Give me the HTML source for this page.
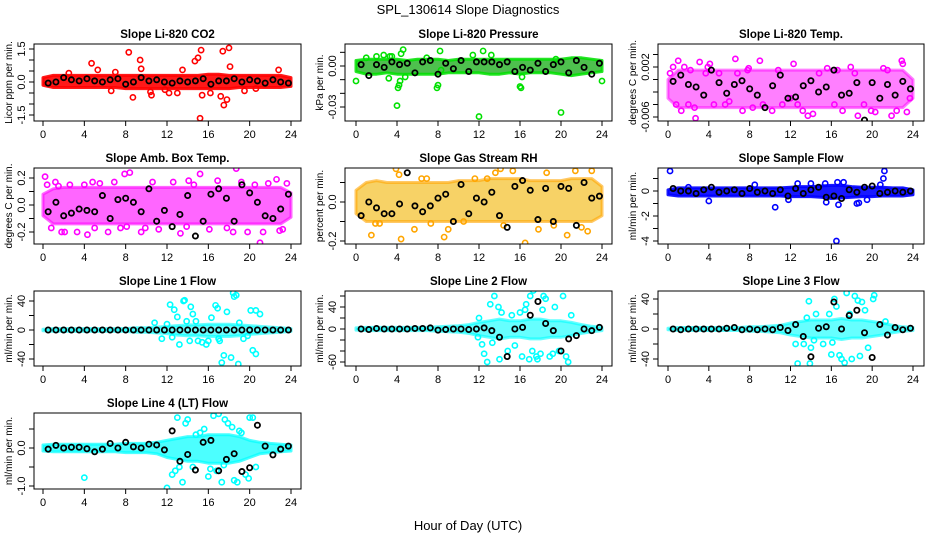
<!DOCTYPE html>
<html><head><meta charset="utf-8">
<style>
html,body{margin:0;padding:0;background:#fff;}
svg{display:block;font-family:"Liberation Sans",Arial,sans-serif;}
</style></head>
<body>
<svg id="chart" width="936" height="540" viewBox="0 0 936 540" xmlns="http://www.w3.org/2000/svg">
<text x="468" y="14" text-anchor="middle" font-size="13">SPL_130614  Slope Diagnostics</text>
<text x="468" y="530" text-anchor="middle" font-size="13">Hour of Day (UTC)</text>
</svg>
<script>
// ---------- shared categories ----------
const bandHours = [0,1,2,3,4,5,6,7,8,9,10,11,12,13,14,15,16,17,18,19,20,21,22,23,24];
const blackHours = [0.5,1.25,2,2.75,3.5,4.25,5,5.75,6.5,7.25,8,8.75,9.5,10.25,11,11.75,12.5,13.25,14,14.75,15.5,16.25,17,17.75,18.5,19.25,20,20.75,21.5,22.25,23,23.75];
const xTicks = [0,4,8,12,16,20,24];

// ---------- P1 CO2 ----------
const p1Hi = [0.2,0.3,0.3,0.3,0.3,0.3,0.3,0.3,0.3,0.3,0.3,0.3,0.3,0.3,0.3,0.3,0.35,0.35,0.3,0.3,0.3,0.3,0.3,0.3,0.2];
const p1Lo = [-0.15,-0.25,-0.25,-0.25,-0.25,-0.25,-0.25,-0.25,-0.3,-0.3,-0.3,-0.3,-0.3,-0.3,-0.3,-0.3,-0.3,-0.3,-0.3,-0.25,-0.25,-0.25,-0.25,-0.25,-0.2];
const p1PtX = [4.7,5.3,8.3,9.4,9.5,7.0,13.5,14.7,15.0,15.3,17.4,18.0,18.1,15.2,8.7,10.5,6.6,15.4,16.2,17.5,17.2,17.8,12.2,13.0,19.5,20.6,22.8,2.5,10.4,11.8];
const p1PtY = [0.85,0.55,1.35,1.0,0.6,0.45,0.55,0.95,1.1,1.45,1.4,1.55,0.7,-1.65,-0.7,-0.6,-0.4,-0.6,-0.5,-1.05,-0.65,-0.8,-0.5,-0.5,-0.4,-0.3,0.55,0.4,-0.45,-0.35];
const p1Black = [-0.05,0.0,0.2,0.1,0.05,0.15,0.05,0.0,0.1,0.15,-0.1,0.0,0.2,0.05,0.1,0.0,-0.05,0.05,0.0,0.05,0.15,-0.1,0.05,0.05,0.15,0.0,0.1,0.05,-0.05,0.1,0.0,-0.05];
const p1Ticks = [-1.5,-1,-0.5,0,0.5,1,1.5];
const p1Labels = ["-1.5","","","0.0","","","1.5"];

// ---------- P2 Pressure ----------
const p2Hi = [0.004,0.005,0.005,0.005,0.005,0.004,0.005,0.005,0.005,0.004,0.005,0.005,0.005,0.005,0.005,0.005,0.005,0.005,0.005,0.005,0.005,0.006,0.006,0.005,0.004];
const p2Lo = [-0.004,-0.006,-0.006,-0.005,-0.006,-0.006,-0.006,-0.006,-0.006,-0.005,-0.005,-0.005,-0.005,-0.006,-0.006,-0.005,-0.006,-0.005,-0.005,-0.005,-0.006,-0.007,-0.006,-0.005,-0.004];
const p2PtX = [0,2,2.7,3.3,3.5,3.2,4.0,4.1,4.2,4.3,4.4,4.6,4.8,7.9,8.0,8.2,8.3,12,12.4,13.2,16,16.1,16.2,19.5,20,24,11.4,1.0,6.9];
const p2PtY = [-0.011,0.007,0.008,0.007,0.007,-0.009,-0.029,-0.016,-0.014,-0.011,0.009,0.012,-0.008,-0.016,-0.014,0.011,-0.003,-0.037,0.011,0.008,-0.015,-0.016,-0.008,0.005,-0.034,-0.011,0.008,0.006,0.006];
const p2Black = [0.001,-0.007,0.001,-0.001,0.003,0.001,0.002,-0.005,0.003,0.004,-0.006,0.002,-0.002,0.004,-0.004,0.003,0.003,0.003,0.001,0.003,-0.004,-0.001,-0.003,0.002,-0.004,0.001,0.003,-0.005,0.004,-0.001,-0.006,0.002];
const p2Ticks = [-0.03,-0.02,-0.01,0,0.01];
const p2Labels = ["-0.03","","","0.00",""];

// ---------- P3 Li-820 Temp ----------
const p3Hi = [0.0,0.0015,0.0015,0.0015,0.0015,0.0015,0.0015,0.0015,0.0015,0.0015,0.0015,0.0015,0.0015,0.0015,0.0015,0.0015,0.0015,0.0015,0.0015,0.0015,0.0015,0.0015,0.0015,0.0015,0.0];
const p3Lo = [-0.003,-0.0045,-0.0045,-0.0045,-0.0045,-0.0045,-0.0045,-0.0045,-0.0045,-0.0045,-0.0045,-0.0045,-0.0045,-0.0045,-0.0045,-0.0045,-0.0045,-0.0045,-0.0045,-0.0045,-0.0045,-0.0045,-0.0045,-0.0045,-0.003];
const p3PtX = [0.2,0.5,0.8,1.0,1.3,1.6,2.0,2.2,2.6,2.7,3.1,3.7,3.9,4.1,4.5,5.0,5.6,6.0,6.6,6.8,7.3,7.8,8.3,9.0,9.3,10.2,10.8,11.2,12.3,12.7,13.2,13.7,14.2,14.8,15.6,16.3,16.6,17.1,17.9,18.3,18.6,19.2,19.9,20.3,21.1,21.5,21.9,22.4,22.9,23.0,23.4,23.7,7.9,12.0];
const p3PtY = [0.001,0.002,-0.004,0.003,-0.005,0.002,-0.004,0.0015,-0.0045,-0.0062,0.0028,0.001,0.002,0.0025,-0.004,0.001,-0.004,-0.0035,0.0033,0.001,-0.005,0.0015,-0.0045,0.0030,-0.004,-0.005,0.0015,-0.004,0.0025,-0.004,-0.005,-0.0058,-0.0055,0.001,0.0018,-0.004,0.0015,-0.005,0.002,0.001,-0.0058,-0.004,-0.005,-0.0052,0.0018,0.0015,-0.0058,-0.005,0.003,0.0025,-0.0052,-0.003,0.0018,-0.003];
const p3Black = [-0.0003,0.0007,-0.0008,-0.0012,-0.0025,0.0015,-0.0005,-0.0022,-0.0008,-0.0002,-0.0015,-0.0025,-0.0045,-0.0010,0.0007,-0.0030,-0.0028,-0.0010,-0.0002,-0.0020,-0.0012,0.0015,-0.0025,-0.0022,-0.0005,-0.0065,-0.0005,-0.0030,-0.0008,-0.0025,-0.0003,-0.0015];
const p3Ticks = [-0.006,-0.004,-0.002,0,0.002,0.004];
const p3Labels = ["-0.006","","","","0.002",""];

// ---------- P4 Amb Box Temp ----------
const p4Hi = [0.08,0.12,0.13,0.13,0.13,0.13,0.13,0.13,0.13,0.13,0.13,0.13,0.13,0.13,0.13,0.13,0.13,0.13,0.13,0.13,0.13,0.13,0.13,0.13,0.09];
const p4Lo = [-0.08,-0.14,-0.14,-0.14,-0.14,-0.14,-0.14,-0.14,-0.14,-0.14,-0.14,-0.14,-0.14,-0.14,-0.14,-0.14,-0.14,-0.14,-0.14,-0.14,-0.14,-0.14,-0.14,-0.14,-0.09];
const p4PtX = [0.2,0.4,0.8,1.2,1.8,2.1,2.6,3.3,4.0,4.3,4.8,5.5,6.3,6.9,7.5,7.9,8.1,8.4,9.5,10.6,11.2,12.6,13.3,13.9,14.1,14.6,15.2,16.1,16.9,17.8,18.4,18.7,19.2,19.8,20.5,21.0,21.3,21.8,22.6,22.9,23.2,23.6,9.9,1.5,5.0];
const p4PtY = [0.21,0.15,-0.17,0.17,-0.2,-0.2,0.15,-0.2,0.15,-0.22,0.17,0.16,-0.2,0.17,-0.17,0.23,-0.16,0.24,-0.2,0.17,-0.18,0.17,-0.21,-0.16,0.18,0.15,0.23,-0.18,0.18,-0.17,-0.2,0.27,0.17,-0.2,0.15,-0.28,-0.2,0.16,0.19,-0.19,-0.18,0.16,-0.17,0.14,-0.17];
const p4Black = [-0.05,0.02,-0.08,-0.06,-0.03,-0.04,-0.05,0.07,-0.1,0.04,0.05,0.02,-0.05,0.12,-0.12,-0.04,-0.16,-0.07,0.07,-0.23,-0.12,0.08,0.12,0.05,-0.12,0.15,0.09,0.02,-0.08,-0.1,-0.03,0.08];
const p4Ticks = [-0.2,-0.1,0,0.1,0.2];
const p4Labels = ["-0.2","","0.0","","0.2"];

// ---------- P5 Gas Stream RH ----------
const p5Hi = [0.06,0.1,0.11,0.1,0.1,0.1,0.1,0.1,0.1,0.1,0.11,0.11,0.11,0.12,0.12,0.12,0.12,0.11,0.11,0.11,0.11,0.12,0.12,0.12,0.08];
const p5Lo = [-0.06,-0.1,-0.1,-0.1,-0.1,-0.1,-0.1,-0.1,-0.1,-0.1,-0.1,-0.1,-0.1,-0.1,-0.1,-0.1,-0.1,-0.1,-0.1,-0.1,-0.1,-0.1,-0.1,-0.1,-0.07];
const p5PtX = [1.5,1.9,4.2,4.4,5.7,6.4,7.3,8.6,9.0,10.5,11.6,12.8,13.6,14.1,15.3,16.5,17.8,18.6,19.3,20.6,21.4,22.0,22.6,23.0,2.3,6.9,14.4,3.9];
const p5PtY = [-0.17,-0.11,0.14,-0.19,-0.14,0.12,-0.11,-0.18,-0.14,-0.1,0.12,0.12,0.15,0.17,0.16,-0.21,-0.14,0.15,-0.12,-0.17,0.16,-0.13,-0.15,0.16,-0.11,0.12,-0.12,0.17];
const p5Black = [-0.07,0.0,-0.03,-0.06,-0.06,-0.01,0.15,-0.02,-0.05,-0.02,0.02,0.04,-0.1,0.09,-0.06,0.02,0.0,0.05,-0.07,-0.13,0.08,0.11,0.06,-0.09,0.07,-0.1,0.08,0.07,-0.12,0.1,0.02,0.03];
const p5Ticks = [-0.2,-0.1,0,0.1];
const p5Labels = ["-0.2","","0.0",""];

// ---------- P6 Sample Flow ----------
const p6Hi = [0.1,0.25,0.25,0.25,0.25,0.25,0.25,0.25,0.25,0.25,0.25,0.25,0.3,0.35,0.35,0.4,0.45,0.45,0.35,0.3,0.3,0.3,0.25,0.25,0.1];
const p6Lo = [-0.3,-0.4,-0.4,-0.4,-0.4,-0.4,-0.4,-0.4,-0.4,-0.4,-0.4,-0.4,-0.45,-0.45,-0.45,-0.5,-0.6,-0.55,-0.5,-0.45,-0.45,-0.4,-0.4,-0.4,-0.3];
const p6PtX = [0.2,21.2,21.1,10.5,16.5,16.7,15.5,18.5,4.0,11.8,19.5,16.6,17.2,12.7,14.0,15.4,8.5,18.7,20.8,2.0];
const p6PtY = [1.6,1.6,1.0,-1.3,-4.0,-1.1,-0.9,-1.0,-0.8,-0.7,-0.7,0.7,0.7,0.6,0.6,0.6,0.5,-0.95,0.5,0.3];
const p6Black = [0.2,0.0,0.0,-0.2,0.1,0.3,-0.1,0.0,0.1,-0.2,0.2,-0.1,0.0,-0.2,0.1,-0.4,0.2,-0.2,0.1,0.3,-0.5,-0.4,-0.6,0.1,-0.1,0.3,0.4,-0.2,-0.1,0.0,-0.1,0.0];
const p6Ticks = [-4,-3,-2,-1,0,1];
const p6Labels = ["-4","","-2","","0",""];

// ---------- P7 Line 1 Flow ----------
const p7Hi = [1,2,2,2,2,2,2,2,2,3,3,4,5,6,7,7,8,8,8,7,6,5,4,3,2];
const p7Lo = [-1,-2,-2,-2,-2,-2,-2,-2,-2,-3,-3,-4,-5,-7,-8,-8,-9,-9,-9,-8,-6,-5,-4,-3,-2];
const p7PtX = [12.3,12.7,13.0,13.2,13.6,13.7,14.3,14.5,14.2,13.9,16.3,16.7,16.9,17.3,17.5,17.8,18.2,18.4,18.5,18.7,18.9,19.0,20.1,20.6,21.0,20.3,20.6,12.5,15.0,15.8,17.1,19.4,10.8,11.5,16.0,15.4,17.0,19.8,14.8,12.0];
const p7PtY = [35,28,18,-20,40,41,32,22,-15,12,17,34,30,-45,-35,25,-38,51,46,48,-47,10,27,27,22,-28,-33,-10,-15,-20,-15,-12,10,-12,-15,-17,-12,-8,12,8];
const p7Black = [0,0,0,0,0,0,0,0,0,0,0,0,0,0,0,0,0,0,0,0,0,0,0,0,0,0,0,0,0,0,0,0];
const p7Ticks = [-40,-20,0,20,40];
const p7Labels = ["-40","","0","","40"];

// ---------- P8 Line 2 Flow ----------
const p8Hi = [2,3,3,3,3,3,3,3,4,5,6,8,12,15,18,15,15,18,18,15,15,12,8,5,3];
const p8Lo = [-2,-3,-3,-3,-3,-3,-3,-3,-4,-5,-6,-8,-12,-15,-18,-15,-15,-18,-18,-15,-15,-12,-8,-5,-3];
const p8PtX = [12.5,12.8,13.5,13.9,14.2,16.2,16.9,17.3,17.7,18.3,18.5,18.9,19.4,20.2,20.5,21.0,12.0,14.8,15.5,16.5,17.0,17.6,18.0,19.8,20.7,13.1,16.0,11.9,13.3,14.0,15.2,17.2,18.2,19.2,12.3,16.6];
const p8PtY = [-45,-60,60,40,30,-50,-55,70,-55,60,55,-50,40,60,-50,25,20,-40,-30,35,60,-50,-45,-40,-60,45,30,-15,-25,-55,25,-40,35,-45,-28,45];
const p8Black = [0,-1,1,0,0,0,0,1,1,2,-2,-1,0,0,-1,0,2,-3,-15,-50,0,3,25,50,10,-3,-40,-18,-12,0,-3,3];
const p8Ticks = [-60,-40,-20,0,20,40,60];
const p8Labels = ["-60","","","0","","40",""];

// ---------- P9 Line 3 Flow ----------
const p9Hi = [1,2,2,2,2,2,2,2,3,3,4,5,8,10,12,12,12,14,12,12,10,8,5,3,2];
const p9Lo = [-1,-2,-2,-2,-2,-2,-2,-2,-3,-3,-4,-5,-8,-10,-12,-12,-12,-14,-12,-12,-10,-8,-5,-3,-2];
const p9PtX = [12.7,13.9,13.8,14.5,16.0,16.3,16.5,17.0,17.3,17.5,18.0,18.3,18.6,19.0,19.3,20.1,20.2,13.3,14.0,15.2,16.8,18.8,21.3,12.5,15.8,14.3,17.8,19.6,16.1,13.6];
const p9PtY = [-46,-46,37,20,-34,40,30,-40,-45,48,-40,44,38,36,25,40,45,-20,-25,-20,-35,-36,10,-20,20,-15,20,-25,-18,15];
const p9Black = [0,-1,0,0,0,0,0,1,2,-1,0,-1,0,-1,2,-2,6,-10,-37,1,3,36,0,18,25,-5,-38,6,-8,2,-1,1];
const p9Ticks = [-40,-20,0,20,40];
const p9Labels = ["-40","","0","","40"];

// ---------- P10 Line 4 (LT) Flow ----------
const p10Hi = [0.08,0.1,0.1,0.1,0.1,0.1,0.1,0.1,0.12,0.12,0.12,0.15,0.2,0.25,0.3,0.3,0.35,0.35,0.35,0.3,0.2,0.15,0.12,0.1,0.08];
const p10Lo = [-0.08,-0.1,-0.1,-0.1,-0.1,-0.1,-0.1,-0.1,-0.12,-0.12,-0.12,-0.15,-0.25,-0.3,-0.35,-0.35,-0.4,-0.4,-0.4,-0.35,-0.25,-0.15,-0.12,-0.1,-0.08];
const p10PtX = [4.0,12.0,12.5,13.0,13.5,13.8,14.0,14.5,15.2,16.0,16.5,17.0,17.3,17.6,17.9,18.5,18.8,19.2,19.6,20.0,20.3,20.6,12.8,16.8,19.9,14.8,13.2,15.6,17.5,18.3,16.2,19.0];
const p10PtY = [-0.78,-1.05,-0.7,0.8,-0.9,0.65,0.75,-0.5,0.4,-0.75,0.85,0.9,-0.9,0.75,0.65,-0.85,-0.9,0.4,-0.7,0.8,0.8,-0.5,-0.6,-0.6,-0.8,0.35,-0.5,0.5,-0.45,0.55,-0.55,0.45];
const p10Black = [-0.03,0.07,0.0,0.02,0.02,-0.02,-0.1,-0.03,0.12,0.0,0.15,0.03,0.0,0.1,0.08,-0.05,0.45,-0.35,-0.17,-0.58,0.15,0.2,-0.6,-0.3,-0.15,-0.62,-0.52,0.6,0.05,-0.18,-0.03,0.05];
const p10Ticks = [-1,-0.5,0,0.5];
const p10Labels = ["-1.0","","0.0",""];

// ---------- layout (not data) ----------
const NS = "http://www.w3.org/2000/svg";
const svg = document.getElementById("chart");
const cols = [{l:34,r:301,x0:43,x1:291},{l:345,r:612,x0:356,x1:602},{l:658,r:924,x0:668,x1:913}];
const rows = [{t:44,b:121},{t:168,b:244},{t:291,b:366},{t:413,b:489}];

function mk(tag, attrs, parent){
  const e = document.createElementNS(NS, tag);
  for (const k in attrs) e.setAttribute(k, attrs[k]);
  (parent||svg).appendChild(e);
  return e;
}

function drawPanel(cfg){
  const c = cols[cfg.col], r = rows[cfg.row];
  const g = mk("g", {});
  
  
  const xs = h => c.x0 + (c.x1 - c.x0) * h / 24;
  const ys = v => cfg.yA + (v - cfg.vA) * (cfg.yB - cfg.yA) / (cfg.vB - cfg.vA);
  const clip = "clip-" + cfg.name;
  const cp = mk("clipPath", {id: clip}, g);
  mk("rect", {x:c.l, y:r.t, width:c.r-c.l, height:r.b-r.t}, cp);
  const plot = mk("g", {"clip-path": "url(#" + clip + ")"}, g);
  
  

  let d = "";
  cfg.hi.forEach((v,i)=>{ d += (i?"L":"M") + xs(bandHours[i]).toFixed(1) + "," + ys(v).toFixed(1); });
  for (let i = cfg.lo.length-1; i >= 0; i--) d += "L" + xs(bandHours[i]).toFixed(1) + "," + ys(cfg.lo[i]).toFixed(1);
  d += "Z";
  const band = mk("path", {d:d, fill:cfg.bandFill, "fill-opacity":cfg.op, stroke:cfg.color, "stroke-opacity":cfg.op, "stroke-width":3, "stroke-linejoin":"round"}, plot);
  
  

  cfg.px.forEach((h,i)=>{
    const p = mk("circle", {cx:xs(h), cy:ys(cfg.py[i]), r:2.6, fill:"none", stroke:cfg.color, "stroke-width":1.6}, plot);
    
    
  });
  cfg.black.forEach((v,i)=>{
    const p = mk("circle", {cx:xs(blackHours[i]), cy:ys(v), r:2.6, fill:"none", stroke:"#000", "stroke-width":1.8}, plot);
    
    
  });

  const fr = mk("rect", {x:c.l, y:r.t, width:c.r-c.l, height:r.b-r.t, fill:"none", stroke:"#000", "stroke-width":1}, g);
  
  

  const xa = mk("g", {}, g);
  
  
  mk("line", {x1:xs(0), x2:xs(24), y1:r.b, y2:r.b, stroke:"#000"}, xa);
  xTicks.forEach(t=>{
    mk("line", {x1:xs(t), x2:xs(t), y1:r.b, y2:r.b+5, stroke:"#000"}, xa);
    const tx = mk("text", {x:xs(t), y:r.b+17, "text-anchor":"middle", "font-size":11}, xa);
    tx.textContent = t;
  });

  const ya = mk("g", {}, g);
  
  
  const tk = cfg.ticks;
  mk("line", {x1:c.l, x2:c.l, y1:ys(tk[0]), y2:ys(tk[tk.length-1]), stroke:"#000"}, ya);
  tk.forEach((t,i)=>{
    const y = ys(t);
    mk("line", {x1:c.l-5, x2:c.l, y1:y, y2:y, stroke:"#000"}, ya);
    if (cfg.labels[i]) {
      const tx = mk("text", {x:c.l-9, y:y, "text-anchor":"middle", "font-size":11, transform:"rotate(-90 " + (c.l-9) + " " + y + ")"}, ya);
      tx.textContent = cfg.labels[i];
    }
  });
  const midY = (r.t + r.b) / 2;
  const yt = mk("text", {x:c.l-22, y:midY, "text-anchor":"middle", "font-size":10, transform:"rotate(-90 " + (c.l-22) + " " + midY + ")"}, g);
  
  
  yt.textContent = cfg.ytitle;

  const ti = mk("text", {x:(c.l+c.r)/2, y:r.t-6, "text-anchor":"middle", "font-size":11.5, "font-weight":"bold"}, g);
  
  
  ti.textContent = cfg.title;
}

const panels = [
  {name:"panel-co2", col:0,row:0,title:"Slope Li-820 CO2",ytitle:"Licor ppm per min.",color:"#ff0000",bandFill:"#ff0000",op:0.9,yA:49,vA:1.5,yB:115,vB:-1.5,hi:p1Hi,lo:p1Lo,px:p1PtX,py:p1PtY,black:p1Black,ticks:p1Ticks,labels:p1Labels},
  {name:"panel-pressure", col:1,row:0,title:"Slope Li-820 Pressure",ytitle:"kPa per min.",color:"#00e000",bandFill:"#2fb52f",op:0.85,yA:66,vA:0,yB:107,vB:-0.03,hi:p2Hi,lo:p2Lo,px:p2PtX,py:p2PtY,black:p2Black,ticks:p2Ticks,labels:p2Labels},
  {name:"panel-li820-temp", col:2,row:0,title:"Slope Li-820 Temp.",ytitle:"degrees C per min.",color:"#ff00ff",bandFill:"#ff00ff",op:0.5,yA:67,vA:0.002,yB:117,vB:-0.006,hi:p3Hi,lo:p3Lo,px:p3PtX,py:p3PtY,black:p3Black,ticks:p3Ticks,labels:p3Labels},
  {name:"panel-box-temp", col:0,row:1,title:"Slope Amb. Box Temp.",ytitle:"degrees C per min.",color:"#ff00ff",bandFill:"#ff00ff",op:0.6,yA:205,vA:0,yB:232,vB:-0.2,hi:p4Hi,lo:p4Lo,px:p4PtX,py:p4PtY,black:p4Black,ticks:p4Ticks,labels:p4Labels},
  {name:"panel-rh", col:1,row:1,title:"Slope Gas Stream RH",ytitle:"percent per min.",color:"#ffa500",bandFill:"#f2b400",op:0.6,yA:202,vA:0,yB:241,vB:-0.2,hi:p5Hi,lo:p5Lo,px:p5PtX,py:p5PtY,black:p5Black,ticks:p5Ticks,labels:p5Labels},
  {name:"panel-sample-flow", col:2,row:1,title:"Slope Sample Flow",ytitle:"ml/min per min.",color:"#0000ff",bandFill:"#0000ff",op:0.9,yA:191,vA:0,yB:241,vB:-4,hi:p6Hi,lo:p6Lo,px:p6PtX,py:p6PtY,black:p6Black,ticks:p6Ticks,labels:p6Labels},
  {name:"panel-line1-flow", col:0,row:2,title:"Slope Line 1 Flow",ytitle:"ml/min per min.",color:"#00ffff",bandFill:"#00ffff",op:0.6,yA:330,vA:0,yB:301,vB:40,hi:p7Hi,lo:p7Lo,px:p7PtX,py:p7PtY,black:p7Black,ticks:p7Ticks,labels:p7Labels},
  {name:"panel-line2-flow", col:1,row:2,title:"Slope Line 2 Flow",ytitle:"ml/min per min.",color:"#00ffff",bandFill:"#00ffff",op:0.6,yA:329,vA:0,yB:307,vB:40,hi:p8Hi,lo:p8Lo,px:p8PtX,py:p8PtY,black:p8Black,ticks:p8Ticks,labels:p8Labels},
  {name:"panel-line3-flow", col:2,row:2,title:"Slope Line 3 Flow",ytitle:"ml/min per min.",color:"#00ffff",bandFill:"#00ffff",op:0.6,yA:329,vA:0,yB:299,vB:40,hi:p9Hi,lo:p9Lo,px:p9PtX,py:p9PtY,black:p9Black,ticks:p9Ticks,labels:p9Labels},
  {name:"panel-line4-flow", col:0,row:3,title:"Slope Line 4 (LT) Flow",ytitle:"ml/min per min.",color:"#00ffff",bandFill:"#00ffff",op:0.7,yA:448,vA:0,yB:486,vB:-1,hi:p10Hi,lo:p10Lo,px:p10PtX,py:p10PtY,black:p10Black,ticks:p10Ticks,labels:p10Labels}
];
panels.forEach(drawPanel);
</script>
</body></html>
